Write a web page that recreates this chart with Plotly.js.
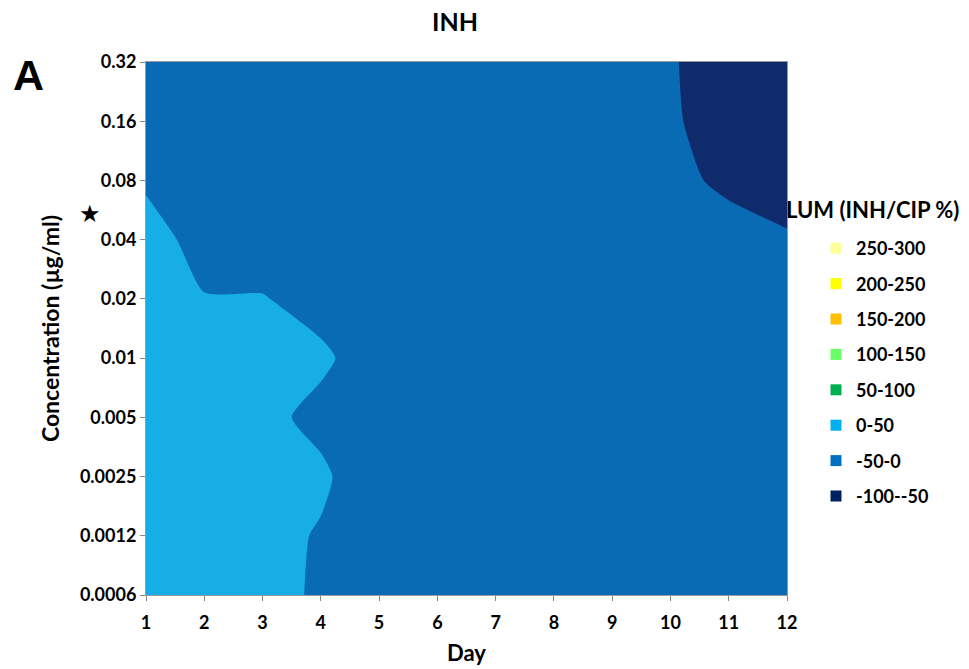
<!DOCTYPE html>
<html><head><meta charset="utf-8">
<script src="https://cdn.plot.ly/plotly-3.0.1.min.js"></script>
<style>html,body{margin:0;padding:0;background:#fff}#chart{width:969px;height:669px}</style>
</head><body><div id="chart"></div>
<script>
// Days (x axis)
const days = [1,2,3,4,5,6,7,8,9,10,11,12];
// Concentrations (y axis, bottom -> top), shown as equally spaced categories
const concLabels = ['0.0006','0.0012','0.0025','0.005','0.01','0.02','0.04','0.08','0.16','0.32'];
const concIndex = [0,1,2,3,4,5,6,7,8,9];

// LUM (INH/CIP %) for each concentration, one value per day (estimated from the bands)
const lum_0_0006 = [ 25, 20, 20, -8,-40,-40,-35,-40,-35,-25,-35,-35];
const lum_0_0012 = [ 20, 15, 20, -5,-40,-40,-35,-40,-35,-25,-30,-35];
const lum_0_0025 = [ 25, 15, 20, 10,-40,-40,-35,-40,-40,-25,-30,-35];
const lum_0_005  = [ 20, 15, 15,-15,-35,-40,-40,-40,-40,-25,-30,-35];
const lum_0_01   = [ 25, 20, 20, 10,-30,-40,-40,-40,-40,-25,-30,-35];
const lum_0_02   = [ 30,  5,  3,-20,-35,-40,-40,-40,-40,-20,-25,-30];
const lum_0_04   = [ 45,-40,-30,-35,-45,-40,-35,-30,-35,-15,-20,-43];
const lum_0_08   = [-15,-30,-40,-40,-40,-40,-20,-20,-20,-30,-65,-80];
const lum_0_16   = [-20,-30,-40,-45,-35,-35,-30,-35,-30,-40,-85,-95];
const lum_0_32   = [-20,-30,-40,-45,-30,-35,-25,-35,-30,-45,-80,-80];

// Legend bands
const bandLabels = ['250-300','200-250','150-200','100-150','50-100','0-50','-50-0','-100--50'];
const bandColors = ['#ffff99','#ffff00','#ffc000','#66ff66','#00b050','#00b0f0','#0070c0','#002060'];

// Colours used for the drawn bands (lit surface tones)
const fillDark = '#102b6c';
const fillMed = '#0a6bb5';
const fillLight = '#17aee6';

const zRows = [lum_0_0006,lum_0_0012,lum_0_0025,lum_0_005,lum_0_01,lum_0_02,lum_0_04,lum_0_08,lum_0_16,lum_0_32];

const traces = [{
  type:'contour', x:days, y:concIndex, z:zRows,
  autocontour:false,
  contours:{start:-50, end:0, size:50, coloring:'fill', showlines:false},
  colorscale:[[0,fillDark],[0.5,fillMed],[1,fillLight]],
  showscale:false, showlegend:false,
  line:{width:0, smoothing:0.6},
  hoverinfo:'skip'
}];
bandLabels.forEach((lab,i)=>{
  traces.push({type:'scatter', mode:'markers', x:[null], y:[null], name:lab,
    legendgroup:'g'+i, showlegend:true,
    marker:{symbol:'square', size:11, color:bandColors[i], line:{width:0}}});
});

const layout = {
  width:969, height:669,
  margin:{l:146, r:182, t:62, b:74},
  paper_bgcolor:'#fff', plot_bgcolor:'#fff',
  font:{family:'Lato, "Open Sans", Arial, sans-serif', color:'#000'},
  title:{text:'INH', font:{size:25, weight:'bold', color:'#000'}, x:455/969, xanchor:'center', xref:'container', y:1-22/669, yanchor:'middle', yref:'container'},
  xaxis:{range:[1,12], tickvals:days, ticks:'outside', ticklen:5, tickcolor:'#888', showline:true, linecolor:'#999', linewidth:1, mirror:true, showgrid:false, zeroline:false,
    ticklabelstandoff:6,
    tickfont:{size:18, weight:'bold'}, title:{text:'Day', font:{size:22, weight:'bold'}, standoff:14}},
  yaxis:{range:[0,9], tickvals:concIndex, ticktext:concLabels, ticks:'outside', ticklen:5, tickcolor:'#888', showline:true, linecolor:'#999', linewidth:1, mirror:true, showgrid:false, zeroline:false,
    tickfont:{size:18, weight:'bold'}, title:{text:'Concentration (µg/ml)', font:{size:23, weight:'bold'}, standoff:13}},
  legend:{xref:'container', x:816/969, xanchor:'left', yref:'container', y:1-230/669, yanchor:'top', font:{size:18, weight:'bold', color:'#000'}, tracegroupgap:9, traceorder:'grouped', bgcolor:'rgba(0,0,0,0)'},
  annotations:[
    {text:'A', xref:'paper', yref:'paper', x:(28-146)/641, y:(595-75)/533, xanchor:'center', yanchor:'middle', showarrow:false, font:{size:43, weight:'bold', family:'Arial, sans-serif'}},
    {text:'★', xref:'paper', yref:'paper', x:(90-146)/641, y:(595-212)/533, xanchor:'center', yanchor:'middle', showarrow:false, font:{size:24, color:'#000'}},
    {text:'LUM (INH/CIP %)', xref:'paper', yref:'paper', x:(784-146)/641, y:(595-209)/533, xanchor:'left', yanchor:'middle', showarrow:false, font:{size:22, weight:'bold'}}
  ]
};
Plotly.newPlot('chart', traces, layout, {displayModeBar:false, staticPlot:true});
</script></body></html>
